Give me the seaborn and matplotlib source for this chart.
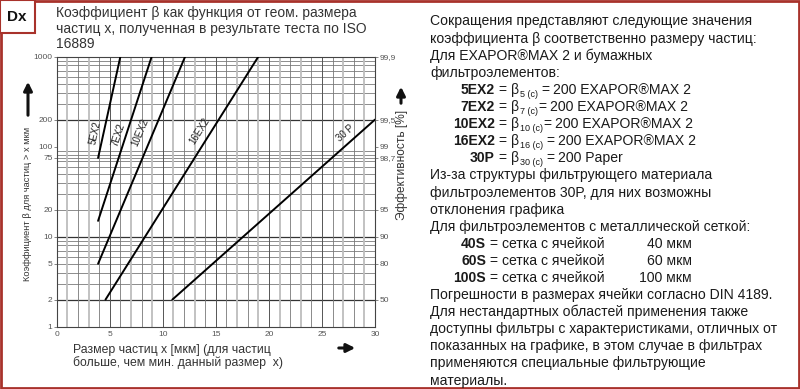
import numpy as np
import pandas as pd
import seaborn as sns
import matplotlib.pyplot as plt
from matplotlib.patches import Rectangle

# curve end points: particle size x [um] -> beta
series = ["5EX2", "7EX2", "10EX2", "16EX2", "30 P"]
x_start = [3.9, 3.9, 3.9, 4.6, 10.9]
beta_start = [75, 15, 5, 2, 2]
x_end = [6.0, 8.95, 12.1, 19.0, 30.0]
beta_end = [1000, 1000, 1000, 1000, 200]

# where the curve names sit
label_x = [3.6, 5.8, 7.9, 13.5, 27.2]
label_beta = [143, 137, 143, 149, 140]

beta_ticks = [1, 2, 5, 10, 20, 75, 100, 200, 1000]
eff_ticks = [1000, 200, 100, 75, 20, 10, 5, 2]
eff_labels = ["99,9", "99,5", "99", "98,7", "95", "90", "80", "50"]
x_ticks = [0, 5, 10, 15, 20, 25, 30]

W, H = 800, 389
RED = "#a8322b"

sns.set_style("white")
plt.rcParams["font.family"] = ["Liberation Sans", "DejaVu Sans"]


def fx(px):
    return px / W


def fy(py):
    return 1 - py / H


df = pd.DataFrame({
    "name": np.repeat(series, 2),
    "x": np.ravel(list(zip(x_start, x_end))),
    "beta": np.ravel(list(zip(beta_start, beta_end))),
})

fig = plt.figure(figsize=(8, 3.89), dpi=100)
ax = fig.add_axes([fx(56.7), fy(326.7), fx(375 - 56.7), (326.7 - 56.7) / H])

ax.set_yscale("log")
ax.set_xlim(0, 30)
ax.set_ylim(1, 1000)

# background grid
minor = [v * 10 ** k for k in range(3) for v in range(2, 10)] + [75]
for b in minor:
    ax.axhline(b, color="#7a7a7a", lw=0.6, zorder=1)
for b in [2, 10, 200]:
    ax.axhline(b, color="#333333", lw=0.9, zorder=1)
for xv in range(1, 30):
    if xv % 5 == 0:
        ax.axvline(xv, color="#555555", lw=0.7, zorder=1)
    elif xv % 2:
        ax.axvline(xv, color="#bdbdbd", lw=1.3, zorder=1)
    else:
        ax.axvline(xv, color="#777777", lw=0.6, zorder=1)

sns.lineplot(data=df, x="x", y="beta", units="name", estimator=None,
             color="black", lw=1.4, ax=ax, legend=False, zorder=3)

for s in ax.spines.values():
    s.set_color("#444444")
    s.set_linewidth(0.8)

ax.set_xticks(x_ticks)
ax.set_xticks(range(31), minor=True)
ax.set_yticks(beta_ticks)
ax.set_yticklabels([str(v) for v in beta_ticks])
ax.yaxis.set_minor_locator(plt.NullLocator())
ax.tick_params(axis="both", which="both", labelsize=6, colors="#555555",
               length=2, width=0.5, pad=1)
ax.tick_params(axis="x", which="minor", length=0)
ax.set_xlabel("")
ax.set_ylabel("")

ax2 = ax.twinx()
ax2.set_yscale("log")
ax2.set_ylim(1, 1000)
ax2.set_yticks(eff_ticks)
ax2.set_yticklabels(eff_labels)
ax2.yaxis.set_minor_locator(plt.NullLocator())
ax2.tick_params(axis="y", labelsize=6, colors="#555555", length=2, width=0.5, pad=1)
for s in ax2.spines.values():
    s.set_visible(False)

# curve names, rotated to follow each line
fig.canvas.draw()
renderer = fig.canvas.get_renderer()
for i, name in enumerate(series):
    p0 = ax.transData.transform((x_start[i], beta_start[i]))
    p1 = ax.transData.transform((x_end[i], beta_end[i]))
    ang = np.degrees(np.arctan2(p1[1] - p0[1], p1[0] - p0[0]))
    ax.text(label_x[i], label_beta[i], name, rotation=ang, rotation_mode="anchor",
            ha="center", va="center", fontsize=7, color="#222222", zorder=4)


def arrow(x0, y0, x1, y1):
    ax.annotate("", xy=(fx(x1), fy(y1)), xytext=(fx(x0), fy(y0)),
                xycoords="figure fraction", textcoords="figure fraction",
                annotation_clip=False,
                arrowprops=dict(arrowstyle="-|>,head_width=0.25,head_length=0.5",
                                lw=2.2, color="#111111"))


# titles and axis labels
fig.text(fx(56), fy(6), "Коэффициент β как функция от геом. размера\n"
         "частиц x, полученная в результате теста по ISO\n16889",
         ha="left", va="top", fontsize=10, color="#333333", linespacing=1.15)
fig.text(fx(28), fy(204), "Коэффициент β для частиц > x мкм", rotation=90,
         ha="center", va="center", fontsize=6.7, color="#333333")
arrow(28, 118, 28, 79)
fig.text(fx(402), fy(165), "Эффективность [%]", rotation=90,
         ha="center", va="center", fontsize=8.6, color="#333333")
arrow(401, 106, 401, 84)
fig.text(fx(73), fy(344), "Размер частиц x [мкм] (для частиц\n"
         "больше, чем мин. данный размер  x)",
         ha="left", va="top", fontsize=8.8, color="#333333", linespacing=1.02)
arrow(336, 348, 358, 348)

# explanation block on the right
fs = 10.1
col = "#1a1a1a"


def run(x, yb, parts):
    # parts: (text, fontsize, weight, gap before [px], baseline shift [px])
    for txt, size, weight, gap, dy in parts:
        x += gap
        t = fig.text(fx(x), fy(yb + dy), txt, ha="left", va="baseline",
                     fontsize=size, fontweight=weight, color=col)
        x = t.get_window_extent(renderer).x1


plain_lines = {
    0: "Сокращения представляют следующие значения",
    1: "коэффициента β соответственно размеру частиц:",
    2: "Для EXAPOR®MAX 2 и бумажных",
    3: "фильтроэлементов:",
    9: "Из-за структуры фильтрующего материала",
    10: "фильтроэлементов 30P, для них возможны",
    11: "отклонения графика",
    12: "Для фильтроэлементов с металлической сеткой:",
    16: "Погрешности в размерах ячейки согласно DIN 4189.",
    17: "Для нестандартных областей применения также",
    18: "доступны фильтры с характеристиками, отличных от",
    19: "показанных на графике, в этом случае в фильтрах",
    20: "применяются специальные фильтрующие",
    21: "материалы.",
}
beta_lines = {
    4: ("5EX2", "5 (c)", 3.5, "200 EXAPOR®MAX 2"),
    5: ("7EX2", "7 (c)", 0.5, "200 EXAPOR®MAX 2"),
    6: ("10EX2", "10 (c)", 0.5, "200 EXAPOR®MAX 2"),
    7: ("16EX2", "16 (c)", 3.5, "200 EXAPOR®MAX 2"),
    8: ("30P", "30 (c)", 3.5, "200 Paper"),
}
mesh_lines = {
    13: ("40S", "40 мкм"),
    14: ("60S", "60 мкм"),
    15: ("100S", "100 мкм"),
}


def yb_of(k):
    return 25.5 + 17.1 * k


for k, txt in plain_lines.items():
    fig.text(fx(430), fy(yb_of(k)), txt, ha="left", va="baseline", fontsize=fs, color=col)

for k, (name, sub, gap, rest) in beta_lines.items():
    yb = yb_of(k)
    fig.text(fx(495), fy(yb), name, ha="right", va="baseline", fontsize=fs,
             fontweight="bold", color=col)
    run(495, yb, [("= β", fs, "normal", 4, 0),
                  (sub, 6.5, "normal", 0.5, 3),
                  ("=", fs, "normal", gap, 0),
                  (rest, fs, "normal", 3.5, 0)])

for k, (name, size) in mesh_lines.items():
    yb = yb_of(k)
    fig.text(fx(486), fy(yb), name, ha="right", va="baseline", fontsize=fs,
             fontweight="bold", color=col)
    run(486, yb, [("= сетка с ячейкой", fs, "normal", 4, 0)])
    fig.text(fx(692), fy(yb), size, ha="right", va="baseline", fontsize=fs, color=col)

# frame and corner tag
fig.patches.append(Rectangle((0.0015, 0.003), 0.997, 0.994, transform=fig.transFigure,
                             fill=False, edgecolor=RED, lw=2))
fig.patches.append(Rectangle((0, fy(33)), fx(35), 33 / H, transform=fig.transFigure,
                             facecolor="white", edgecolor=RED, lw=1.5))
fig.text(fx(17), fy(17), "Dx", ha="center", va="center", fontsize=11,
         fontweight="bold", color="#111111")

fig.savefig("out.png", dpi=100)
